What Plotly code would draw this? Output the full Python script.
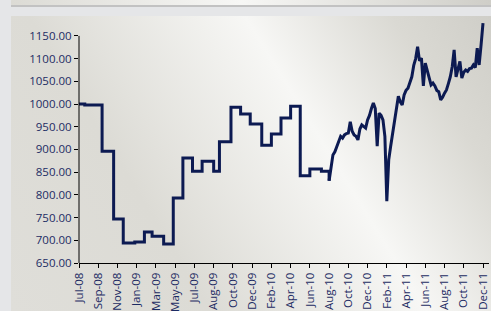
import base64
import plotly.graph_objects as go

# ---------------- data ----------------
tick_labels = ["Jul-08", "Sep-08", "Nov-08", "Jan-09", "Mar-09", "May-09", "Jul-09",
               "Aug-09", "Oct-09", "Dec-09", "Feb-10", "Apr-10", "Jun-10", "Aug-10",
               "Oct-10", "Dec-10", "Feb-11", "Apr-11", "Jun-11", "Aug-11", "Oct-11",
               "Dec-11"]
points_per_label = 10  # observations between two consecutive tick labels
monthly_until = 130    # observations before this index are monthly NAV steps

nav_values = [
    1000, 1000, 1000, 998, 998, 998, 998, 998, 998, 998, 998, 998,
    896, 896, 896, 896, 896, 896,
    747, 747, 747, 747, 747,
    694, 694, 694, 694, 694, 694,
    696, 696, 696, 696, 696,
    718, 718, 718, 718,
    709, 709, 709, 709, 709, 709,
    692, 692, 692, 692, 692,
    793, 793, 793, 793, 793,
    881, 881, 881, 881, 881,
    852, 852, 852, 852, 852,
    874, 874, 874, 874, 874, 874,
    852, 852, 852,
    917, 917, 917, 917, 917, 917,
    993, 993, 993, 993, 993,
    978, 978, 978, 978, 978,
    956, 956, 956, 956, 956, 956,
    909, 909, 909, 909, 909,
    934, 934, 934, 934, 934,
    969, 969, 969, 969, 969,
    995, 995, 995, 995, 995,
    842, 842, 842, 842, 842,
    857, 857, 857, 857, 857, 857,
    852, 852, 852, 852,
    831, 857, 888, 895, 907, 915, 929, 925, 932, 935,
    936, 961, 940, 932, 929, 921, 945, 954, 950, 947,
    965, 975, 990, 1002, 990, 907, 980, 975, 965, 929,
    786, 877, 907, 936, 960, 995, 1017, 1005, 998, 1020,
    1030, 1035, 1050, 1060, 1085, 1100, 1126, 1095, 1101, 1040,
    1090, 1075, 1060, 1042, 1046, 1040, 1030, 1027, 1009, 1015,
    1024, 1031, 1045, 1060, 1082, 1119, 1060, 1080, 1094, 1057,
    1070, 1075, 1072, 1078, 1079, 1086, 1080, 1123, 1086, 1130,
    1178,
]
y_ticks = [650, 700, 750, 800, 850, 900, 950, 1000, 1050, 1100, 1150]

# ---------------- style ----------------
W, H = 491, 311
ML, MR, MT, MB = 79, 2, 20, 48
PW, PH = W - ML - MR, H - MT - MB
LINE_COLOR = "#0c1a52"
TEXT_COLOR = "#1c2b63"
FONT = dict(family="Open Sans", size=11.5, color=TEXT_COLOR)

svg = f'''<svg xmlns="http://www.w3.org/2000/svg" width="{W}" height="{H}" viewBox="0 0 {W} {H}" preserveAspectRatio="none">
<defs>
<linearGradient id="g" gradientUnits="userSpaceOnUse" x1="32" y1="343" x2="511" y2="48">
<stop offset="0" stop-color="#dfded9"/>
<stop offset="0.30" stop-color="#dcdbd5"/>
<stop offset="0.627" stop-color="#f7f7f5"/>
<stop offset="0.85" stop-color="#dad9d3"/>
<stop offset="1" stop-color="#cfcec8"/>
</linearGradient>
<linearGradient id="t" x1="0" y1="0" x2="1" y2="0">
<stop offset="0" stop-color="#dcdbd5"/>
<stop offset="0.48" stop-color="#f7f7f5"/>
<stop offset="1" stop-color="#cfcec8"/>
</linearGradient>
</defs>
<rect x="0" y="0" width="{W}" height="{H}" fill="#e5e6e8"/>
<rect x="11" y="0" width="480" height="5" fill="url(#t)"/>
<rect x="11" y="5" width="480" height="2" fill="#c2c2c2"/>
<rect x="11" y="16" width="480" height="295" fill="url(#g)"/>
</svg>'''
bg_src = "data:image/svg+xml;base64," + base64.b64encode(svg.encode()).decode()

obs_index = list(range(len(nav_values)))
tick_positions = [i * points_per_label for i in range(len(tick_labels))]
x_end = (len(tick_labels) - 1) * points_per_label * PW / 404.0

fig = go.Figure()
# monthly NAV period: step line
fig.add_trace(go.Scatter(
    x=obs_index[:monthly_until + 1], y=nav_values[:monthly_until + 1],
    mode="lines",
    line=dict(color=LINE_COLOR, width=3, shape="hv"),
    hoverinfo="skip", showlegend=False,
))
# daily NAV period: plain line
fig.add_trace(go.Scatter(
    x=obs_index[monthly_until:], y=nav_values[monthly_until:],
    mode="lines",
    line=dict(color=LINE_COLOR, width=3, shape="linear"),
    hoverinfo="skip", showlegend=False,
))

fig.add_shape(type="line", xref="paper", yref="y", x0=0, x1=0,
              y0=y_ticks[0], y1=y_ticks[-1], line=dict(color="black", width=1))

fig.update_layout(
    width=W, height=H,
    margin=dict(l=ML, r=MR, t=MT, b=MB, pad=0, autoexpand=False),
    paper_bgcolor="rgba(0,0,0,0)",
    plot_bgcolor="rgba(0,0,0,0)",
    font=FONT,
    images=[dict(source=bg_src, xref="paper", yref="paper",
                 x=-ML / PW, y=1 + MT / PH, sizex=W / PW, sizey=H / PH,
                 xanchor="left", yanchor="top", sizing="stretch", layer="below")],
    xaxis=dict(
        range=[0, x_end], automargin=False,
        tickmode="array", tickvals=tick_positions, ticktext=tick_labels,
        tickangle=-90, ticks="outside", ticklen=4, tickcolor="black",
        showline=True, linecolor="black", linewidth=1,
        showgrid=False, zeroline=False, tickfont=FONT,
    ),
    yaxis=dict(
        range=[650, 1185], automargin=False,
        tickmode="array", tickvals=y_ticks, tickformat=".2f",
        ticks="outside", ticklen=4, tickcolor="black",
        showline=False, showgrid=False, zeroline=False, tickfont=FONT,
    ),
)

fig.write_html(
    "out.html",
    config={"displayModeBar": False},
    post_script="document.body.style.margin='0';document.body.style.overflow='hidden';",
)
